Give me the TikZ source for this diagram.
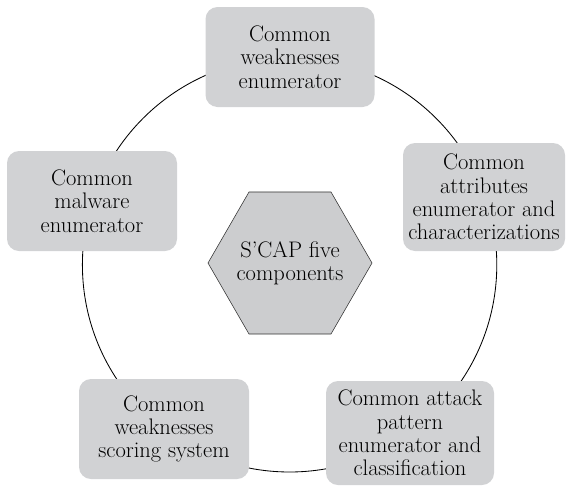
\documentclass[tikz,border=0pt]{standalone}
\usetikzlibrary{shapes,positioning}
\definecolor{boxgray}{RGB}{209,210,212}
\definecolor{hexgray}{RGB}{204,205,207}

\begin{document}
\begin{tikzpicture}
  [part/.style={rectangle,rounded corners=0.3cm,fill=boxgray,align=center,inner sep=1pt,font=\fontsize{16}{16.6}\selectfont},
   core/.style={regular polygon,regular polygon sides=6,draw=black!80,fill=hexgray,minimum size=4.1cm,inner sep=0pt},
   coretext/.style={align=center,font=\fontsize{16}{16.6}\selectfont}]
  \useasboundingbox (0,0) rectangle (14.175,-12.15);

  % ring behind the five parts
  \draw [black,line width=0.6pt] (7.24,-6.62) circle (5.18cm);

  \node[core,label={[coretext]center:{S'CAP five\\components}}] (hub) at (7.25,-6.575) {};

  \node[part,minimum width=4.225cm,minimum height=2.5cm] (cwe) at (7.25,-1.425) {Common\\weaknesses\\enumerator};
  \node[part,minimum width=4.05cm,minimum height=2.7cm] (caec) at (12.1,-4.925) {Common\\attributes\\enumerator and\\characterizations};
  \node[part,minimum width=4.2cm,minimum height=2.6cm] (capec) at (10.25,-10.825) {Common attack\\pattern\\enumerator and\\classification};
  \node[part,minimum width=4.25cm,minimum height=2.5cm] (cwss) at (4.1,-10.725) {Common\\weaknesses\\scoring system};
  \node[part,minimum width=4.25cm,minimum height=2.5cm] (cme) at (2.3,-5.025) {Common\\malware\\enumerator};
\end{tikzpicture}
\end{document}
